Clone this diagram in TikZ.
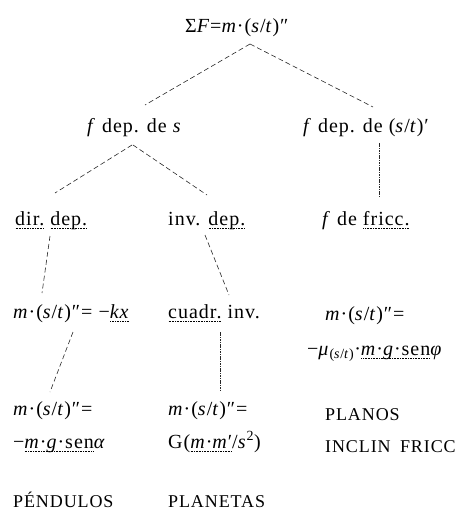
\documentclass[tikz,border=0pt]{standalone}
\usepackage{fontspec}
\setmainfont{Liberation Serif}[LetterSpace=5]
\usetikzlibrary{calc}
\newsavebox\dubox
\newcommand\du[1]{\sbox\dubox{#1}\leavevmode\rlap{\raisebox{-3.2pt}{\hbox to \wd\dubox{\xleaders\hbox to 1.6pt{\hss\rule{0.9pt}{0.6pt}\hss}\hfill}}}\usebox\dubox}
\newcommand\mst{\textit{m}·(\textit{s}/\textit{t})″}
\begin{document}
\begin{tikzpicture}[x=1pt,y=1pt,
  txt/.style={inner sep=0pt,anchor=base west,font=\fontsize{20}{24}\selectfont},
  caps/.style={inner sep=0pt,anchor=base west,font=\fontsize{18}{21}\selectfont},
  dl/.style={draw=black!85,line width=0.6pt,dash pattern=on 5pt off 3pt},
  vl/.style={draw=black!85,line width=0.5pt,dash pattern=on 1.6pt off 0.8pt}]
\useasboundingbox (0,0) rectangle (467,-513);
% nodes
\node[txt] (top)  at (185,-33)  {Σ\textit{F}=\mst};
\node[txt] (fs)   at (87,-132)  {\textit{f} dep. de \textit{s}};
\node[txt] (fst)  at (303,-132) {\textit{f} dep. de (\textit{s}/\textit{t})′};
\node[txt] (dir)  at (15,-225)  {\du{dir.} \du{dep.}};
\node[txt] (inv)  at (168,-225) {inv. \du{dep.}};
\node[txt] (fric) at (322,-225) {\textit{f} de \du{fricc.}};
\node[txt] (r4l)  at (13,-318)  {\mst= −\du{\textit{kx}}};
\node[txt] (cuad) at (168,-318) {\du{cuadr.} inv.};
\node[txt] (fr1)  at (325,-320) {\mst=};
\node[txt] (fr2)  at (307,-355) {−\textit{μ}\textsubscript{(\textit{s}/\textit{t})}·\du{\textit{m}·\textit{g}·sen}\textit{φ}};
\node[txt] (r5l)  at (13,-415)  {\mst=};
\node[txt] (r6l)  at (13,-448)  {−\du{\textit{m}·\textit{g}·sen}\textit{α}};
\node[txt] (r5m)  at (168,-415) {\mst=};
\node[txt] (r6m)  at (168,-448) {G(\du{\textit{m}·\textit{m}′}/\textit{s}\textsuperscript{2})};
\node[caps] (pla)  at (325,-420) {PLANOS};
\node[caps] (inc)  at (325,-452) {INCLIN\hspace{4pt} FRICC};
\node[caps] (pen)  at (13,-507)  {PÉNDULOS};
\node[caps] (plt)  at (168,-507) {PLANETAS};
% connectors
\draw[dl] ($(top.base west)+(65,-11)$) -- ($(fs.base west)+(58,27)$);
\draw[dl] ($(top.base west)+(65,-11)$) -- ($(fst.base west)+(70,25)$);
\draw[dl] ($(fs.base west)+(45,-13)$) -- ($(dir.base west)+(40,32)$);
\draw[dl] ($(fs.base west)+(46,-13)$) -- ($(inv.base west)+(39,30)$);
\draw[vl] ($(fst.base west)+(76,-11)$) -- ($(fric.base west)+(57,27)$);
\draw[dl] ($(dir.base west)+(35,-11)$) -- ($(r4l.base west)+(29,25)$);
\draw[dl] ($(inv.base west)+(37,-10)$) -- ($(cuad.base west)+(61,23)$);
\draw[dl] ($(r4l.base west)+(60,-14)$) -- ($(r5l.base west)+(37,23)$);
\draw[vl] ($(cuad.base west)+(52,-14)$) -- ($(r5m.base west)+(52,25)$);
\end{tikzpicture}
\end{document}
